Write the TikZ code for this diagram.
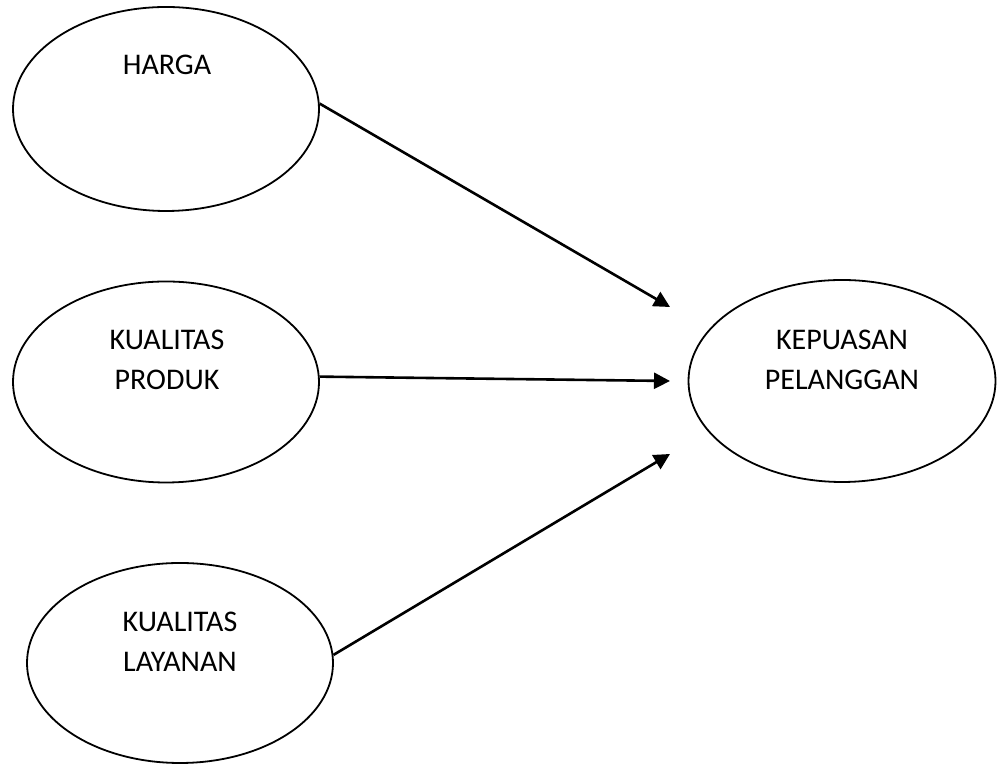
\documentclass[tikz,border=0pt]{standalone}
\usepackage{fontspec}
\setmainfont{Carlito}
\usetikzlibrary{shapes.geometric,arrows.meta}
\begin{document}
\begin{tikzpicture}[x=1pt,y=1pt,
  oval/.style={draw=black,line width=1.8pt,ellipse,inner sep=0pt},
  lbl/.style={align=center,font=\fontsize{30}{40}\selectfont,inner sep=0pt},
  conn/.style={line width=2.6pt,-{Triangle[length=16pt,width=16pt]}}]
\useasboundingbox (0,0) rectangle (997,765);
\node[oval,minimum width=306pt,minimum height=204pt] (harga) at (166,656) {};
\node[oval,minimum width=306pt,minimum height=201pt] (produk) at (166,383) {};
\node[oval,minimum width=306pt,minimum height=200pt] (layanan) at (180,102) {};
\node[oval,minimum width=307pt,minimum height=202pt] (kepuasan) at (842,384) {};
\node[lbl] (hargat) at (167,700) {HARGA};
\node[lbl] (produkt) at (167,405) {KUALITAS\\PRODUK};
\node[lbl] (layanant) at (180,123) {KUALITAS\\LAYANAN};
\node[lbl] (kepuasant) at (842,405) {KEPUASAN\\PELANGGAN};
\coordinate (t1) at (670,458);
\coordinate (t2) at (670,384);
\coordinate (t3) at (670,311);
\draw[conn] (harga.2) -- (t1);
\draw[conn] (produk.2) -- (t2);
\draw[conn] (layanan.3) -- (t3);
\end{tikzpicture}
\end{document}
